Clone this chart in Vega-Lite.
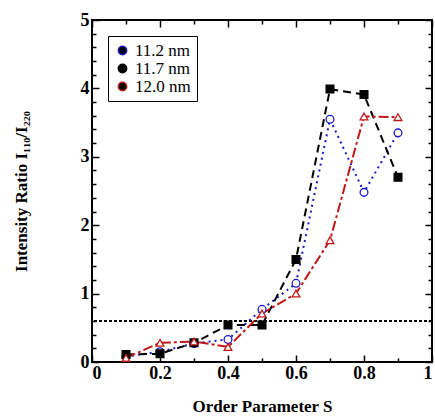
{
  "$schema": "https://vega.github.io/schema/vega-lite/v6.json",
  "width": 340,
  "height": 342,
  "autosize": {"type": "none"},
  "padding": {"left": 92, "top": 20, "right": 3, "bottom": 58},
  "background": "white",
  "config": {
    "font": "Liberation Serif",
    "view": {"stroke": "black", "strokeWidth": 2},
    "axis": {"domain": false, "grid": false, "tickColor": "black", "tickWidth": 1.5, "labelColor": "black", "titleColor": "black", "labelFont": "Liberation Serif", "titleFont": "Liberation Serif"},
    "legend": {"labelFont": "Liberation Serif"}
  },
  "data": {"values": [
    {"s": 0.1, "r": 0.08, "d": "11.2 nm"},
    {"s": 0.2, "r": 0.15, "d": "11.2 nm"},
    {"s": 0.3, "r": 0.27, "d": "11.2 nm"},
    {"s": 0.4, "r": 0.33, "d": "11.2 nm"},
    {"s": 0.5, "r": 0.77, "d": "11.2 nm"},
    {"s": 0.6, "r": 1.15, "d": "11.2 nm"},
    {"s": 0.7, "r": 3.55, "d": "11.2 nm"},
    {"s": 0.8, "r": 2.48, "d": "11.2 nm"},
    {"s": 0.9, "r": 3.35, "d": "11.2 nm"},
    {"s": 0.1, "r": 0.11, "d": "11.7 nm"},
    {"s": 0.2, "r": 0.12, "d": "11.7 nm"},
    {"s": 0.3, "r": 0.28, "d": "11.7 nm"},
    {"s": 0.4, "r": 0.54, "d": "11.7 nm"},
    {"s": 0.5, "r": 0.54, "d": "11.7 nm"},
    {"s": 0.6, "r": 1.5, "d": "11.7 nm"},
    {"s": 0.7, "r": 3.99, "d": "11.7 nm"},
    {"s": 0.8, "r": 3.91, "d": "11.7 nm"},
    {"s": 0.9, "r": 2.7, "d": "11.7 nm"},
    {"s": 0.1, "r": 0.06, "d": "12.0 nm"},
    {"s": 0.2, "r": 0.28, "d": "12.0 nm"},
    {"s": 0.3, "r": 0.3, "d": "12.0 nm"},
    {"s": 0.4, "r": 0.22, "d": "12.0 nm"},
    {"s": 0.5, "r": 0.71, "d": "12.0 nm"},
    {"s": 0.6, "r": 1.0, "d": "12.0 nm"},
    {"s": 0.7, "r": 1.78, "d": "12.0 nm"},
    {"s": 0.8, "r": 3.59, "d": "12.0 nm"},
    {"s": 0.9, "r": 3.58, "d": "12.0 nm"}
  ]},
  "resolve": {"axis": {"x": "independent", "y": "independent"}, "legend": {"color": "independent"}},
  "layer": [
    {
      "mark": {"type": "rule", "strokeDash": [3, 2], "strokeWidth": 1, "color": "black"},
      "encoding": {"y": {"datum": 0.6, "type": "quantitative", "axis": null}}
    },
    {
      "mark": {"type": "line", "strokeWidth": 2},
      "encoding": {
        "x": {"field": "s", "type": "quantitative", "scale": {"domain": [0, 1]},
          "axis": {"orient": "bottom", "values": [0, 0.2, 0.4, 0.6, 0.8, 1], "format": "~g", "tickSize": -7, "labelPadding": 9, "labelFontSize": 18, "labelFontWeight": "bold", "title": "Order Parameter S", "titleFontSize": 17, "titleFontWeight": "bold", "titlePadding": 16}},
        "y": {"field": "r", "type": "quantitative", "scale": {"domain": [0, 5]},
          "axis": {"orient": "left", "values": [0, 1, 2, 3, 4, 5], "tickSize": -7, "labelPadding": 10, "labelFontSize": 18, "labelFontWeight": "bold", "title": "Intensity Ratio I₁₁₀/I₂₂₀", "titleFontSize": 17, "titleFontWeight": "bold", "titlePadding": 50}},
        "color": {"field": "d", "type": "nominal", "scale": {"domain": ["11.2 nm", "11.7 nm", "12.0 nm"], "range": ["#1a1acc", "black", "#c01818"]}, "legend": null},
        "strokeDash": {"field": "d", "type": "nominal", "scale": {"domain": ["11.2 nm", "11.7 nm", "12.0 nm"], "range": [[2, 4], [8, 5], [10, 3, 3, 3]]}, "legend": null}
      }
    },
    {
      "mark": {"type": "point", "size": 60, "strokeWidth": 1.3, "opacity": 1},
      "encoding": {
        "x": {"field": "s", "type": "quantitative",
          "axis": {"orient": "bottom", "values": [0.1, 0.3, 0.5, 0.7, 0.9], "tickSize": -4, "labels": false, "title": null}},
        "y": {"field": "r", "type": "quantitative",
          "axis": {"orient": "left", "values": [0.2,0.4,0.6,0.8,1.2,1.4,1.6,1.8,2.2,2.4,2.6,2.8,3.2,3.4,3.6,3.8,4.2,4.4,4.6,4.8], "tickSize": -4, "labels": false, "title": null}},
        "color": {"field": "d", "type": "nominal", "scale": {"domain": ["11.2 nm", "11.7 nm", "12.0 nm"], "range": ["#1a1acc", "black", "#c01818"]},
          "legend": {"title": null, "orient": "top-left", "offset": 16, "strokeColor": "black", "fillColor": "white", "padding": 6, "labelFont": "Liberation Serif", "labelFontSize": 17, "symbolSize": 70, "symbolStrokeWidth": 1.5, "rowPadding": 0,
            "encode": {"legend": {"update": {"strokeWidth": {"value": 2}}}}}},
        "shape": {"field": "d", "type": "nominal", "scale": {"domain": ["11.2 nm", "11.7 nm", "12.0 nm"], "range": ["circle", "square", "triangle-up"]}, "legend": null},
        "fill": {"field": "d", "type": "nominal", "scale": {"domain": ["11.2 nm", "11.7 nm", "12.0 nm"], "range": ["white", "black", "white"]}, "legend": null}
      }
    },
    {
      "mark": {"type": "point", "opacity": 0},
      "encoding": {
        "x": {"field": "s", "type": "quantitative", "axis": {"orient": "top", "values": [0, 0.2, 0.4, 0.6, 0.8, 1], "tickSize": -7, "labels": false, "title": null}},
        "y": {"field": "r", "type": "quantitative", "axis": {"orient": "right", "values": [0, 1, 2, 3, 4, 5], "tickSize": -7, "labels": false, "title": null}}
      }
    },
    {
      "mark": {"type": "point", "opacity": 0},
      "encoding": {
        "x": {"field": "s", "type": "quantitative", "axis": {"orient": "top", "values": [0.1, 0.3, 0.5, 0.7, 0.9], "tickSize": -4, "labels": false, "title": null}},
        "y": {"field": "r", "type": "quantitative", "axis": {"orient": "right", "values": [0.2,0.4,0.6,0.8,1.2,1.4,1.6,1.8,2.2,2.4,2.6,2.8,3.2,3.4,3.6,3.8,4.2,4.4,4.6,4.8], "tickSize": -4, "labels": false, "title": null}}
      }
    }
  ]
}
